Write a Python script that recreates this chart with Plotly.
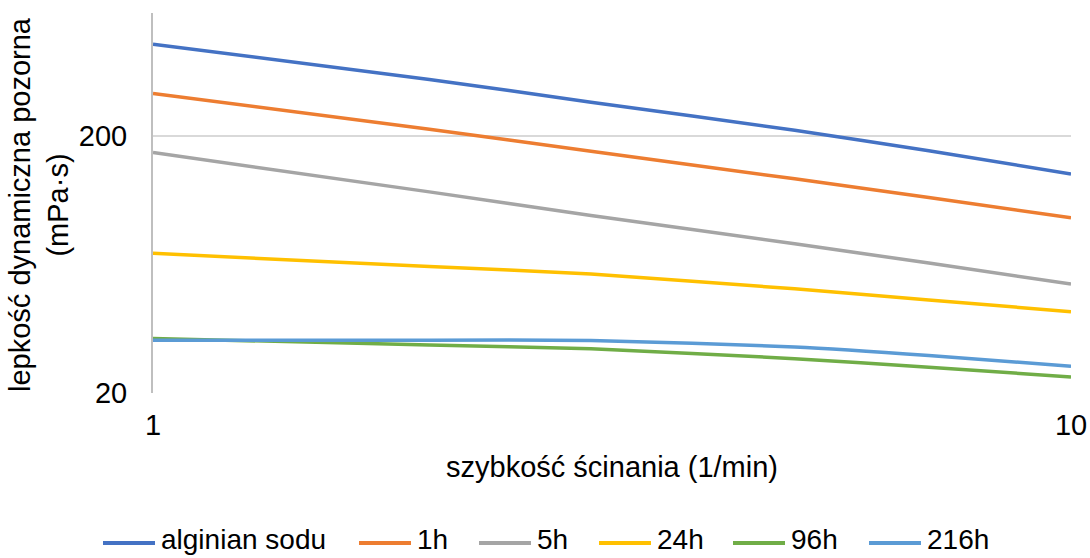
import plotly.graph_objects as go

shear_rate = [1, 2, 3, 5, 7, 10]
series_names = ["alginian sodu", "1h", "5h", "24h", "96h", "216h"]
alginian_sodu = [454, 331, 270, 210, 175, 142]
h1 = [292, 212, 174, 136, 115, 96]
h5 = [172, 121, 98, 76, 64, 53]
h24 = [69.8, 62, 58, 50.8, 46, 41.4]
h96 = [32.6, 30.7, 29.7, 27.2, 25.2, 23.1]
h216 = [32.1, 32.1, 32.0, 30.2, 28.0, 25.4]
colors = ["#4472C4", "#ED7D31", "#A5A5A5", "#FFC000", "#70AD47", "#5B9BD5"]
x_ticks = [1, 10]
y_ticks = [20, 200]

values = [alginian_sodu, h1, h5, h24, h96, h216]
FONT = "Liberation Sans, Arial, sans-serif"
FS = 29

# plot-area geometry in pixels
L, R, T, B = 153, 1071, 13, 393
W, H = 1090, 558


def px_x(p):
    return (p - L) / (R - L)


def px_y(p):
    return (B - p) / (B - T)


fig = go.Figure()
for name, vals, col in zip(series_names, values, colors):
    fig.add_trace(go.Scatter(
        x=shear_rate, y=vals, name=name, mode="lines", showlegend=False,
        line=dict(color=col, width=3.5, shape="spline", smoothing=0.6),
    ))

# legend (drawn as shapes + text to match the spacing of the original)
legend_text_left = [161, 417, 537, 657, 791, 927]
legend_y = 543
shapes = []
annotations = []
for name, col, tx in zip(series_names, colors, legend_text_left):
    shapes.append(dict(type="line", xref="paper", yref="paper",
                       x0=px_x(tx - 58), x1=px_x(tx - 6),
                       y0=px_y(legend_y), y1=px_y(legend_y),
                       line=dict(color=col, width=4)))
    annotations.append(dict(text=name, xref="paper", yref="paper",
                            x=px_x(tx - 2), y=px_y(legend_y - 4),
                            xanchor="left", yanchor="middle", showarrow=False,
                            font=dict(size=28)))

annotations += [
    dict(text="lepkość dynamiczna pozorna<br>(mPa·s)", textangle=-90,
         xref="paper", yref="paper", x=px_x(39), y=px_y(205),
         xanchor="center", yanchor="middle", showarrow=False,
         font=dict(size=FS)),
    dict(text="szybkość ścinania (1/min)",
         xref="paper", yref="paper", x=px_x(612), y=px_y(467),
         xanchor="center", yanchor="middle", showarrow=False,
         font=dict(size=FS)),
]

fig.update_layout(
    width=W, height=H,
    margin=dict(l=L, r=W - R, t=T, b=H - B, autoexpand=False),
    paper_bgcolor="white", plot_bgcolor="white",
    font=dict(family=FONT, size=FS, color="#000000"),
    showlegend=False,
    xaxis=dict(type="log", range=[0, 1], tickvals=x_ticks, ticktext=[str(v) for v in x_ticks],
               showgrid=True, gridcolor="#D9D9D9", gridwidth=1.5, showline=False,
               zeroline=False, ticks="", ticklabelstandoff=12, automargin=False),
    yaxis=dict(type="log", range=[1.30103, 2.77815], tickvals=y_ticks,
               ticktext=[str(v) for v in y_ticks],
               showgrid=True, gridcolor="#D9D9D9", gridwidth=1.5,
               showline=True, linecolor="#BFBFBF", linewidth=2,
               zeroline=False, ticks="", ticklabelstandoff=18, automargin=False),
    shapes=shapes,
    annotations=annotations,
)

fig.write_html(
    "out.html",
    config={"displayModeBar": False},
    post_script="document.body.style.margin='0px';document.body.style.padding='0px';",
)
